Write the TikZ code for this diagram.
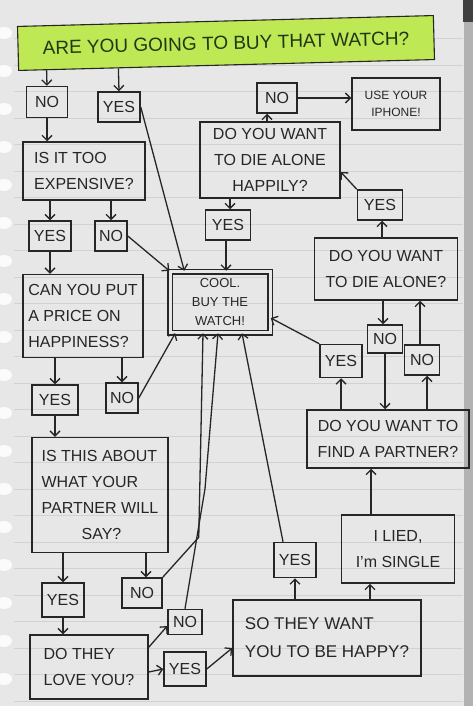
\documentclass[tikz,border=0pt]{standalone}
\usepackage{fontspec}
\setmainfont{Liberation Sans}
\usepackage{tikz}
\usetikzlibrary{shapes,arrows.meta,calc}

\definecolor{paper}{RGB}{231,231,231}
\definecolor{ruling}{RGB}{210,210,210}
\definecolor{ink}{RGB}{38,38,38}
\definecolor{lime}{RGB}{190,232,84}
\definecolor{leaf}{RGB}{35,55,20}

\begin{document}
\begin{tikzpicture}[
    x=1pt, y=-1pt,
    >={Straight Barb[length=5pt,width=10pt]},
    qbox/.style={rectangle, draw=ink, line width=1.5pt, inner sep=2pt, align=center, text=ink, font=\fontsize{16}{26}\selectfont},
    ans/.style={qbox, inner sep=0pt, minimum width=42pt, minimum height=30pt},
    titlebox/.style={draw=ink, line width=1.1pt, fill=lime, text=leaf, font=\fontsize{19}{22}\selectfont},
    arrow/.style={->, draw=ink, line width=1.3pt}
]
\useasboundingbox (0,0) rectangle (473,706);

% notebook paper
\fill[paper] (0,0) rectangle (473,706);
\fill[gray!60] (464,0) rectangle (473,706);
\fill[black!75] (463,0) rectangle (473,22);
\foreach \k in {1,...,26}
    \draw[ruling, line width=0.7pt] (14,{12+26.5*\k}) -- (463,{12+26.5*\k});
\foreach \y in {33,71,...,705}
    \fill[white!85!paper] (4,\y) ellipse (8pt and 6pt);

% question
\node[titlebox, rotate=1.5, minimum width=416pt, minimum height=44pt] (title) at (226,43) {ARE YOU GOING TO BUY THAT WATCH?};

% left column
\node[ans, minimum width=41pt, minimum height=31pt] (noA) at (47,102) {NO};
\node[ans] (yesA) at (119,107) {YES};
\node[qbox, minimum width=122pt, minimum height=58pt, align=left] (costly) at (84,171) {IS IT TOO\\EXPENSIVE?};
\node[ans] (yesB) at (50,236) {YES};
\node[ans, minimum width=32pt] (noB) at (111,236) {NO};
\node[qbox, minimum width=120pt, minimum height=83pt, align=left] (price) at (83,316) {CAN YOU PUT\\A PRICE ON\\HAPPINESS?};
\node[ans, minimum width=46pt] (yesC) at (55,400) {YES};
\node[ans, minimum width=32pt] (noC) at (122,398) {NO};
\node[qbox, minimum width=136pt, minimum height=115pt, align=left] (say) at (100,495) {IS THIS ABOUT\\WHAT YOUR\\PARTNER WILL\\\hspace*{2.5em}SAY?};
\node[ans, minimum height=34pt] (yesD) at (63,600) {YES};
\node[ans, minimum width=40pt] (noD) at (142,593) {NO};
\node[ans, minimum width=34pt, minimum height=25pt] (noE) at (185,622) {NO};
\node[qbox, minimum width=118pt, minimum height=64pt, align=left] (love) at (89,667) {DO THEY\\LOVE YOU?};
\node[ans, minimum height=34pt] (yesE) at (185,669) {YES};

% centre
\node[qbox, double=paper, double distance=3pt, minimum width=100pt, minimum height=61pt, font=\fontsize{13}{19}\selectfont] (cool) at (220,302) {COOL.\\BUY THE\\WATCH!};

% right side
\node[qbox, minimum width=188pt, minimum height=76pt, align=left, font=\fontsize{17}{28}\selectfont] (wish) at (327,638) {SO THEY WANT\\YOU TO BE HAPPY?};
\node[ans, minimum height=35pt] (yesF) at (295,560) {YES};
\node[qbox, minimum width=113pt, minimum height=68pt] (lied) at (398,549) {I LIED,\\I'm SINGLE};
\node[qbox, minimum width=162pt, minimum height=58pt] (mate) at (388,439) {DO YOU WANT TO\\FIND A PARTNER?};
\node[ans, minimum height=33pt] (yesG) at (341,361) {YES};
\node[ans, minimum width=35pt, minimum height=28pt] (noF) at (385,339) {NO};
\node[ans, minimum width=35pt] (noG) at (422,360) {NO};
\node[qbox, minimum width=143pt, minimum height=62pt] (alone) at (386,269) {DO YOU WANT\\TO DIE ALONE?};
\node[ans, minimum width=45pt] (yesH) at (380,205) {YES};
\node[qbox, minimum width=140pt, minimum height=76pt] (happily) at (270,160) {DO YOU WANT\\TO DIE ALONE\\HAPPILY?};
\node[ans, minimum width=45pt] (yesI) at (228,225) {YES};
\node[ans, minimum width=40pt] (noH) at (277,98) {NO};
\node[qbox, minimum width=88pt, minimum height=52pt, font=\fontsize{12}{17}\selectfont] (phone) at (396,104) {USE YOUR\\IPHONE!};

% left branch
\draw[arrow] ($(title.south west)!(noA.north)!(title.south east)$) -- (noA.north);
\draw[arrow] ($(title.south west)!(yesA.north)!(title.south east)$) -- (yesA.north);
\draw[arrow] (noA.south) -- (noA.south |- costly.north);
\draw[arrow] (yesA.east) -- ([xshift=15pt]cool.north west);
\draw[arrow] (yesB.north |- costly.south) -- (yesB.north);
\draw[arrow] (noB.north |- costly.south) -- (noB.north);
\draw[arrow] (noB.east) -- (cool.north west);
\draw[arrow] (yesB.south) -- (yesB.south |- price.north);
\draw[arrow] (yesC.north |- price.south) -- (yesC.north);
\draw[arrow] (noC.north |- price.south) -- (noC.north);
\draw[arrow] (noC.east) -- ([xshift=6pt]cool.south west);
\draw[arrow] (yesC.south) -- (yesC.south |- say.north);
\draw[arrow] (yesD.north |- say.south) -- (yesD.north);
\draw[arrow] ([xshift=4pt]noD.north |- say.south) -- ([xshift=4pt]noD.north);
\draw[arrow] (noD.north east) -- ++(36,-40) -- ([xshift=-17pt]cool.south);
\draw[arrow] (noE.north) -- ++(20,-120) -- ([xshift=-2pt]cool.south);
\draw[arrow] (yesD.south) -- (yesD.south |- love.north);
\draw[arrow] ([yshift=-13pt]love.north east) -- ([yshift=-4pt]noE.west);
\draw[arrow] ([yshift=-5pt]love.east) -- (yesE.west);
\draw[arrow] (yesE.east) -- ([yshift=-10pt]wish.west);

% right branch
\draw[arrow] (yesF.south |- wish.north) -- (yesF.south);
\draw[arrow] ([xshift=-12pt]yesF.north) -- ([xshift=22pt]cool.south);
\draw[arrow] ([xshift=-28pt]lied.south |- wish.north) -- ([xshift=-28pt]lied.south);
\draw[arrow] ([xshift=-27pt]lied.north) -- ([xshift=-27pt]lied.north |- mate.south);
\draw[arrow] (yesG.south |- mate.north) -- (yesG.south);
\draw[arrow] (yesG.north west) -- ([yshift=-16pt]cool.east);
\draw[arrow] ([xshift=5pt]noG.south |- mate.north) -- ([xshift=5pt]noG.south);
\draw[arrow] ([xshift=-2pt]noG.north) -- ([xshift=-2pt]noG.north |- alone.south);
\draw[arrow] ([xshift=-2pt]noF.north |- alone.south) -- ([xshift=-2pt]noF.north);
\draw[arrow] (noF.south) -- (noF.south |- mate.north);
\draw[arrow] ([xshift=2pt]yesH.south |- alone.north) -- ([xshift=2pt]yesH.south);
\draw[arrow] (yesH.north west) -- ([yshift=-12pt]happily.east);
\draw[arrow] ([xshift=2pt]yesI.north |- happily.south) -- ([xshift=2pt]yesI.north);
\draw[arrow] ([xshift=-2pt]yesI.south) -- ([xshift=-2pt]yesI.south |- cool.north);
\draw[arrow] ([xshift=-10pt]noH.south |- happily.north) -- ([xshift=-10pt]noH.south);
\draw[arrow] (noH.east) -- (noH.east -| phone.west);
\end{tikzpicture}
\end{document}
